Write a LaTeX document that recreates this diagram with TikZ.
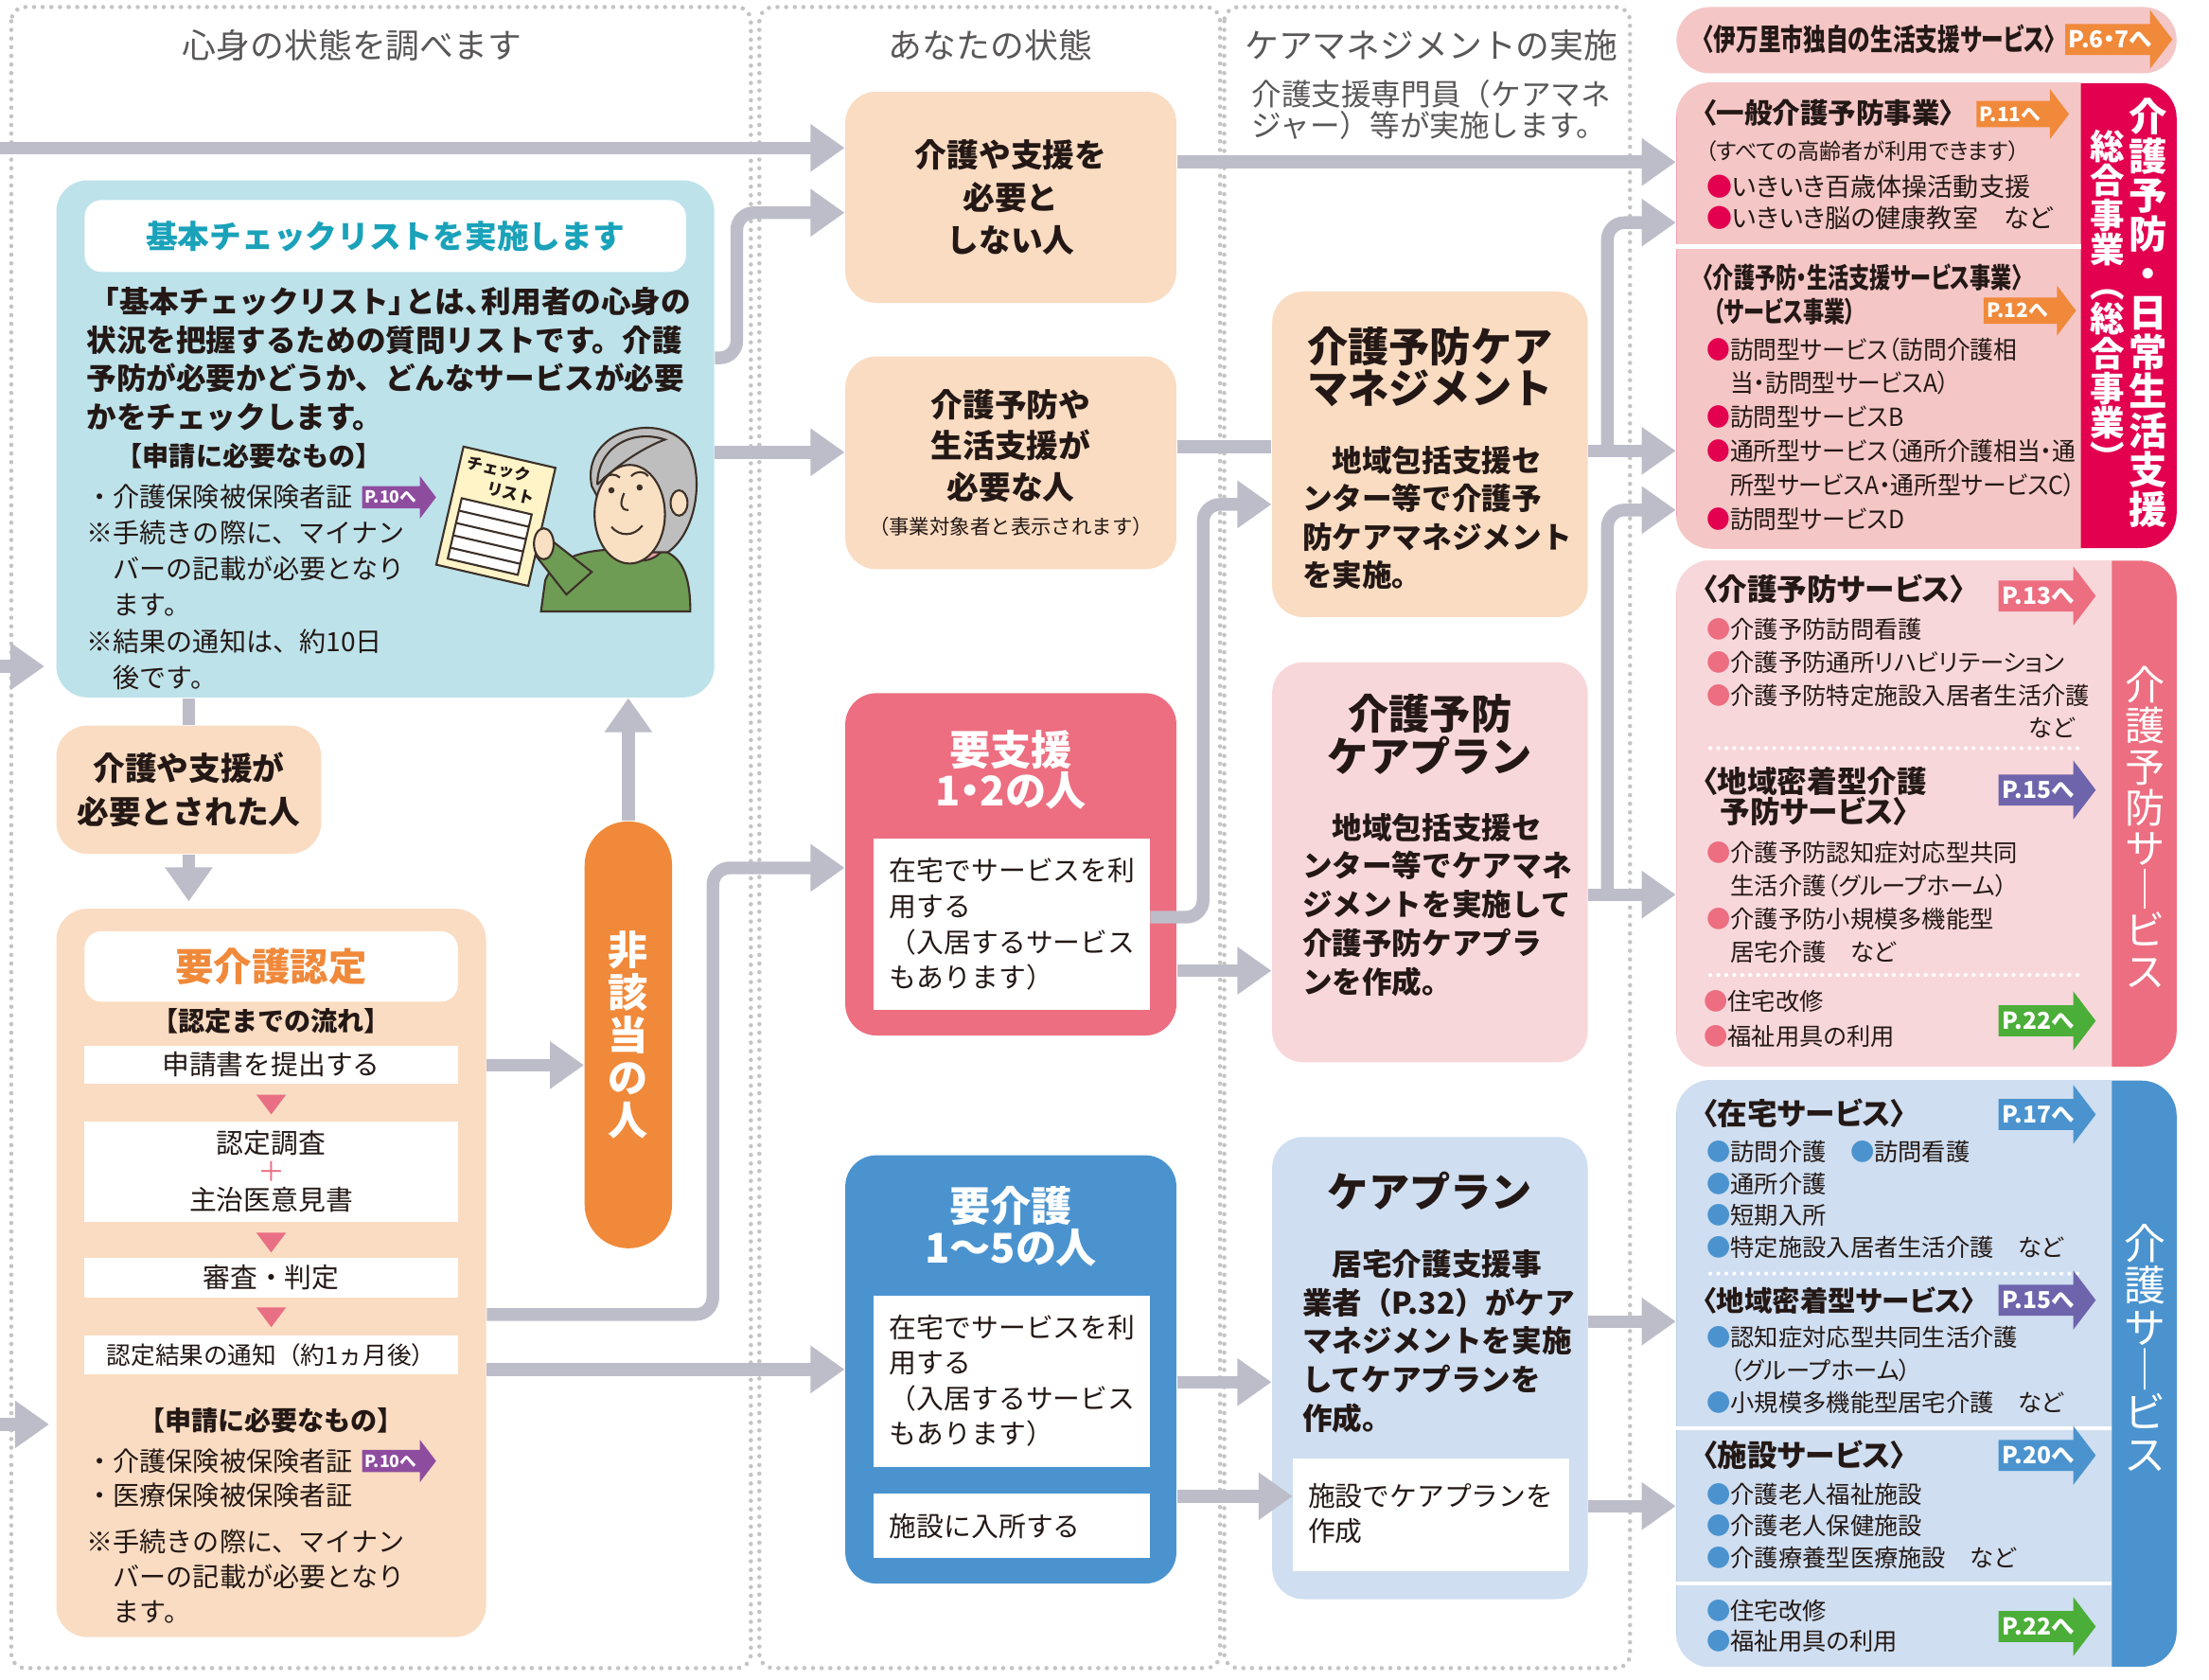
\documentclass[tikz,border=0pt]{standalone}
\usepackage{fontspec}
\setmainfont{Noto Sans CJK JP}
\newfontfamily\rcfont{Noto Sans CJK JP}[RawFeature=+palt]
\newfontfamily\rcnarrow{Noto Sans CJK JP}[RawFeature=+palt, FakeStretch=0.94]
\newfontfamily\hdnarrow{Noto Sans CJK JP}[RawFeature=+palt, FakeStretch=0.75]
\usetikzlibrary{arrows.meta,fit}

\definecolor{flowgray}{HTML}{BDBDCA}
\definecolor{framegray}{HTML}{C4C4C4}
\definecolor{headgray}{HTML}{595757}
\definecolor{ink}{HTML}{231815}
\definecolor{checkblue}{HTML}{BDE2EA}
\definecolor{checkteal}{HTML}{1AA2BA}
\definecolor{peach}{HTML}{FADCC2}
\definecolor{pillorange}{HTML}{F0893A}
\definecolor{shienred}{HTML}{EC6E80}
\definecolor{planpink}{HTML}{F8D7DB}
\definecolor{kaigoblue}{HTML}{4A93CF}
\definecolor{planblue}{HTML}{CFDEF0}
\definecolor{sougoupink}{HTML}{F5C6C6}
\definecolor{sougoumag}{HTML}{E2004F}
\definecolor{tagorange}{HTML}{F0893A}
\definecolor{tagpurple}{HTML}{6E64AC}
\definecolor{tagviolet}{HTML}{8E4C9F}
\definecolor{taggreen}{HTML}{4BAE38}
\definecolor{flowpink}{HTML}{E96F84}
\definecolor{shirt}{HTML}{6F9C55}
\definecolor{skin}{HTML}{FAE0C3}
\definecolor{hair}{HTML}{BEBEBE}
\definecolor{paper}{HTML}{FEF4C8}
\definecolor{collar}{HTML}{E8A7A6}
\definecolor{illline}{HTML}{3C3028}

\newcommand{\jfs}[2]{\fontsize{#1}{#2}\selectfont}
\newcommand{\bul}[1]{\textcolor{#1}{●}}
\newcommand{\bulind}{\phantom{●}}

% page reference tag: name, colour, x, y, body length, size, text
\newcommand{\pagetag}[7]{%
  \pgfmathsetmacro{\tagfs}{7*#6}%
  \fill[#2] (#3,#4) ++(0,-11*#6) -- ++(#5,0) -- ++(0,-10*#6) -- ++(16*#6,21*#6)
    -- ++(-16*#6,21*#6) -- ++(0,-10*#6) -- ++(-#5,0) -- cycle;
  \node[inner sep=0pt, anchor=west, text=white, font=\rcfont\bfseries\fontsize{\tagfs}{\tagfs}\selectfont] (#1) at (#3+2*#6,#4) {#7};}

\tikzset{
  flow/.style={draw=flowgray, line width=0.134cm, rounded corners=0.18cm},
  flowto/.style={flow, -{Triangle[width=0.48cm,length=0.36cm]}},
  colframe/.style={draw=framegray, line width=1.3pt, dash pattern=on 0pt off 2.6pt, line cap=round, rounded corners=0.15cm},
  sepdots/.style={draw=white, line width=1.2pt, dash pattern=on 0pt off 2.4pt, line cap=round},
  box/.style={inner sep=0pt, rounded corners=0.33cm},
  svbox/.style={inner sep=0pt, rounded corners=0.37cm},
  bar/.style={fill=white, inner sep=0pt},
  txt/.style={inner sep=0pt, anchor=west, align=left, text=ink},
  ctxt/.style={inner sep=0pt, align=center, text=ink},
  colhead/.style={inner sep=0pt, text=headgray, font=\jfs{10.2}{12}},
  svhead/.style={txt, font=\rcfont\bfseries\jfs{9}{10}},
}

\begin{document}
\begin{tikzpicture}[x=0.014885cm, y=-0.014885cm]
\useasboundingbox (0,0) rectangle (1568,1192);
\fill[white] (0,0) rectangle (1568,1192);

% column frames and headings
\draw[colframe] (8,5) rectangle (533,1184);
\draw[colframe] (539,5) rectangle (866,1184);
\draw[colframe] (869,5) rectangle (1157,1184);
\node[colhead] (head1) at (250,32) {心身の状態を調べます};
\node[colhead] (head2) at (703,32) {あなたの状態};
\node[colhead] (head3) at (1016,32) {ケアマネジメントの実施};
\node[txt, text=headgray, font=\jfs{9}{9.3}] (head3sub) at (888,78) {介護支援専門員（ケアマネ\\ジャー）等が実施します。};

% ---------- column 1 ----------
\node[box, fill=checkblue, fit={(40,128) (507,495)}] (kihon) {};
\node[box, fill=white, rounded corners=0.18cm, fit={(60,142) (487,193)}] (kihonbar) {};
\node[ctxt, text=checkteal, font=\bfseries\jfs{9.6}{11}] (kihontitle) at (kihonbar) {基本チェックリストを実施します};
\node[txt, font=\bfseries\jfs{9}{11.55}] (kihonbody) at (61,255) {\hspace*{0.1em}「基本チェックリスト」\hspace{-0.45em}とは、\hspace{-0.45em}利用者の心身の\\状況を把握するための質問リストです。介護\\予防が必要かどうか、どんなサービスが必要\\かをチェックします。};
\node[txt, font=\bfseries\jfs{8}{10}] (kihonneed) at (82,324) {【申請に必要なもの】};
\node[txt, font=\jfs{8}{10}] (kihonitem) at (61,352.6) {・介護保険被保険者証};
\pagetag{tagkihon}{tagviolet}{257}{353}{41}{0.72}{P.10へ}
\node[txt, font=\jfs{8}{10.9}] (kihonnote) at (61,429.5) {※手続きの際に、マイナン\\　バーの記載が必要となり\\　ます。\\※結果の通知は、約10日\\　後です。};

% man holding the check list
\begin{scope}[line width=0.6pt, draw=illline]
  \filldraw[fill=shirt] (384,434) -- (387,412) .. controls (392,398) and (412,390) .. (438,390) -- (468,390) .. controls (484,394) and (490,408) .. (490,434) -- cycle;
  \filldraw[fill=collar] (440,392) .. controls (450,400) and (462,400) .. (470,391) -- (466,386) -- (444,386) -- cycle;
  \filldraw[fill=shirt] (402,422) -- (380,394) -- (392,384) -- (420,406) -- cycle;
  \begin{scope}[shift={(329,317)}, rotate=-13]
    \filldraw[fill=paper] (0,0) rectangle (67,86);
    \node[inner sep=0pt, transform shape, text=ink, font=\bfseries\jfs{4.8}{4.8}] (sheettop) at (28,10) {チェック};
    \node[inner sep=0pt, transform shape, text=ink, font=\bfseries\jfs{4.8}{4.8}] (sheetbottom) at (40,25) {リスト};
    \filldraw[fill=white] (7,36) rectangle (58,80);
    \foreach \ly in {45,54,63,72} \draw (7,\ly) -- (58,\ly);
  \end{scope}
  \filldraw[fill=skin] (386,386) ellipse (7 and 11);
  \filldraw[fill=hair] (420,345) .. controls (412,305) and (470,290) .. (489,318) .. controls (500,340) and (494,378) .. (474,392) -- (445,392) -- cycle;
  \filldraw[fill=skin] (447,365) ellipse (25 and 35);
  \filldraw[fill=skin] (482,357) ellipse (6 and 9);
  \filldraw[fill=hair] (424,344) .. controls (424,318) and (448,304) .. (472,312) .. controls (456,318) and (438,330) .. (424,344);
  \fill[illline] (434,348) circle (2.2) (454,346) circle (2.2);
  \draw (428,340) .. controls (432,336) and (437,336) .. (440,339);
  \draw (448,338) .. controls (452,334) and (457,334) .. (460,338);
  \draw (443,350) .. controls (440,357) and (440,362) .. (446,362);
  \draw (434,374) .. controls (440,381) and (450,381) .. (456,373);
\end{scope}

\node[box, fill=peach, fit={(40,515) (228,606)}] (hitsuyou) {};
\node[ctxt, font=\bfseries\jfs{9.6}{13}] (hitsuyoutext) at (hitsuyou) {介護や支援が\\必要とされた人};

\node[box, fill=peach, fit={(40,645) (345,1162)}] (nintei) {};
\node[box, fill=white, rounded corners=0.18cm, fit={(60,661) (325,711)}] (nintbar) {};
\node[ctxt, text=pillorange, font=\bfseries\jfs{11.5}{13}] (ninttitle) at (nintbar) {要介護認定};
\node[ctxt, font=\bfseries\jfs{8}{10}] (nintflow) at (192.5,725) {【認定までの流れ】};
\node[bar, fit={(60,742) (325,769.5)}] (step1) {};
\node[ctxt, font=\jfs{8.2}{10}] (step1text) at (step1) {申請書を提出する};
\node[bar, fit={(60,796) (325,867)}] (step2) {};
\node[ctxt, font=\jfs{8.2}{8.5}] (step2text) at (step2) {認定調査\\\textcolor{flowpink}{＋}\\主治医意見書};
\node[bar, fit={(60,893) (325,921)}] (step3) {};
\node[ctxt, font=\jfs{8.2}{10}] (step3text) at (step3) {審査・判定};
\node[bar, fit={(60,948) (325,975.5)}] (step4) {};
\node[ctxt, font=\jfs{7.3}{10}] (step4text) at (step4) {認定結果の通知（約1ヵ月後）};
\foreach \ty in {777,875,928}
  \fill[flowpink] (182,\ty) -- (203,\ty) -- (192.5,\ty+14) -- cycle;
\node[ctxt, font=\bfseries\jfs{8}{10}] (nintneed) at (192.5,1008) {【申請に必要なもの】};
\node[txt, font=\jfs{8}{10.2}] (nintitems) at (61,1049) {・介護保険被保険者証\\・医療保険被保険者証};
\pagetag{tagnintei}{tagviolet}{257}{1037}{41}{0.72}{P.10へ}
\node[txt, font=\jfs{8}{10.6}] (nintnote) at (61,1119) {※手続きの際に、マイナン\\　バーの記載が必要となり\\　ます。};

\node[fill=pillorange, rounded corners=0.46cm, inner sep=0pt, fit={(415,583) (477,886)}] (higaitou) {};
\node[ctxt, text=white, font=\bfseries\jfs{12}{12.8}] (higaitoutext) at (higaitou) {非\\該\\当\\の\\人};

% ---------- column 2 ----------
\node[box, fill=peach, fit={(600,65) (835,215)}] (fuyou) {};
\node[ctxt, font=\bfseries\jfs{9.6}{12.9}] (fuyoutext) at (fuyou) {介護や支援を\\必要と\\しない人};
\node[box, fill=peach, fit={(600,253) (835,404)}] (jigyou) {};
\node[ctxt, font=\bfseries\jfs{9.6}{12.5}] (jigyoutitle) at (717.5,316.5) {介護予防や\\生活支援が\\必要な人};
\node[ctxt, font=\jfs{6.1}{7}] (jigyounote) at (717.5,374) {（事業対象者と表示されます）};

\node[box, fill=shienred, fit={(600,492) (835,735)}] (youshien) {};
\node[ctxt, text=white, font=\rcfont\bfseries\jfs{12.3}{12.3}] (shientitle) at (717.5,546.5) {要支援\\1・2の人};
\node[bar, fit={(620,595) (816,717)}] (shienin) {};
\node[txt, font=\jfs{8.2}{10.7}] (shientext) at (631,656) {在宅でサービスを利\\用する\\（入居するサービス\\もあります）};

\node[box, fill=kaigoblue, fit={(600,820) (835,1124)}] (youkaigo) {};
\node[ctxt, text=white, font=\rcfont\bfseries\jfs{12.3}{12.3}] (kaigotitle) at (717.5,870.5) {要介護\\1〜5の人};
\node[bar, fit={(620,920) (816,1041)}] (kaigoin) {};
\node[txt, font=\jfs{8.2}{10.7}] (kaigotext) at (631,980) {在宅でサービスを利\\用する\\（入居するサービス\\もあります）};
\node[bar, fit={(620,1060) (816,1106)}] (shisetsuin) {};
\node[txt, font=\jfs{8.2}{10}] (shisetsutext) at (631,1083) {施設に入所する};

% ---------- column 3 ----------
\node[box, fill=peach, fit={(903,207) (1127,438)}] (yobocm) {};
\node[ctxt, font=\bfseries\jfs{12.3}{12.5}] (yobocmtitle) at (1015,260.5) {介護予防ケア\\マネジメント};
\node[txt, font=\bfseries\jfs{9}{11.55}] (yobocmtext) at (924,367.5) {　地域包括支援セ\\ンター等で介護予\\防ケアマネジメント\\を実施。};

\node[box, fill=planpink, fit={(903,470) (1127,754)}] (yoboplan) {};
\node[ctxt, font=\bfseries\jfs{12.3}{12.8}] (yoboplantitle) at (1015,521.5) {介護予防\\ケアプラン};
\node[txt, font=\bfseries\jfs{9}{11.6}] (yoboplantext) at (924,642) {　地域包括支援セ\\ンター等でケアマネ\\ジメントを実施して\\介護予防ケアプラ\\ンを作成。};

\node[box, fill=planblue, fit={(903,807) (1127,1135)}] (careplan) {};
\node[ctxt, font=\bfseries\jfs{12.3}{12.8}] (careplantitle) at (1015,845) {ケアプラン};
\node[txt, font=\bfseries\jfs{9}{11.6}] (careplantext) at (924,952) {　居宅介護支援事\\業者（P.32）がケア\\マネジメントを実施\\してケアプランを\\作成。};
\node[bar, fit={(918,1035) (1114,1115)}] (planin) {};
\node[txt, font=\jfs{8.2}{10.6}] (planintext) at (928,1074.5) {施設でケアプランを\\作成};

% ---------- services ----------
\node[svbox, fill=sougoupink, rounded corners=0.35cm, fit={(1190,5) (1545,52)}] (imari) {};
\node[svhead, font=\hdnarrow\bfseries\jfs{9}{10}] (imaritext) at (1208,28) {〈伊万里市独自の生活支援サービス〉};
\pagetag{tagimari}{tagorange}{1466}{28}{60}{1}{P.6・7へ}

\node[svbox, fill=sougoumag, fit={(1190,59) (1545,389)}] (sougou) {};
\begin{scope}
  \clip (1190,59) rectangle (1477,389);
  \fill[sougoupink, rounded corners=0.37cm] (sougou.north west) rectangle (sougou.south east);
\end{scope}
\draw[white, line width=1.3pt] (1190,175) -- (1477,175);
\node[ctxt, text=white, font=\bfseries\jfs{11.5}{11.8}] (sougoulabel) at (1525,222) {介\\護\\予\\防\\・\\日\\常\\生\\活\\支\\援};
\node[ctxt, text=white, font=\bfseries\jfs{10.4}{10.4}] (sougousub) at (1496,213) {総\\合\\事\\業\\︵\\総\\合\\事\\業\\︶};
\node[svhead, font=\rcfont\bfseries\jfs{8.4}{10}] (ippan) at (1208,80) {〈一般介護予防事業〉};
\pagetag{tagippan}{tagorange}{1403}{81}{52}{0.85}{P.11へ}
\node[txt, font=\rcfont\jfs{6.6}{8}] (ippannote) at (1210,107) {（すべての高齢者が利用できます）};
\node[txt, font=\rcfont\jfs{7.7}{9.5}] (ippanitems) at (1211,143.75) {\bul{sougoumag}いきいき百歳体操活動支援\\\bul{sougoumag}いきいき脳の健康教室　など};
\node[svhead, font=\hdnarrow\bfseries\jfs{8.4}{10}] (sabisu) at (1208,209) {〈介護予防・生活支援サービス事業〉\\\hspace*{0.4em}（サービス事業）};
\pagetag{tagsabisu}{tagorange}{1408}{220.5}{52}{0.85}{P.12へ}
\node[txt, font=\rcnarrow\jfs{7.5}{10.2}] (sabisuitems) at (1211,308) {\bul{sougoumag}訪問型サービス（訪問介護相\\\bulind 当・訪問型サービスA）\\\bul{sougoumag}訪問型サービスB\\\bul{sougoumag}通所型サービス（通所介護相当・通\\\bulind 所型サービスA・通所型サービスC）\\\bul{sougoumag}訪問型サービスD};

\node[svbox, fill=shienred, fit={(1190,398) (1545,757)}] (yobosv) {};
\begin{scope}
  \clip (1190,398) rectangle (1499,757);
  \fill[planpink, rounded corners=0.37cm] (yobosv.north west) rectangle (yobosv.south east);
\end{scope}
\draw[sepdots] (1214,531) -- (1475,531);
\draw[sepdots] (1214,692) -- (1475,692);
\node[ctxt, text=white, font=\jfs{12}{12.3}] (yobosvlabel) at (1522.5,587) {介\\護\\予\\防\\サ\\｜\\ビ\\ス};
\node[svhead] (yobosvhead) at (1208,418.3) {〈介護予防サービス〉};
\pagetag{tagyobo}{shienred}{1418.6}{423}{53}{1}{P.13へ}
\node[txt, font=\rcfont\jfs{7.2}{9.9}] (yobosvitems) at (1211,470.3) {\bul{shienred}介護予防訪問看護\\\bul{shienred}介護予防通所リハビリテーション\\\bul{shienred}介護予防特定施設入居者生活介護};
\node[inner sep=0pt, anchor=east, text=ink, font=\rcfont\jfs{7.2}{9}] (yobosvetc) at (1473,516.4) {など};
\node[svhead, font=\rcfont\bfseries\jfs{9}{9.15}] (mitchakuhead) at (1208,565.5) {〈地域密着型介護\\\hspace*{0.6em}予防サービス〉};
\pagetag{tagmitchaku}{tagpurple}{1418.6}{560.7}{53}{1}{P.15へ}
\node[txt, font=\rcfont\jfs{7.2}{9.95}] (mitchakuitems) at (1211,640.3) {\bul{shienred}介護予防認知症対応型共同\\\bulind 生活介護（グループホーム）\\\bul{shienred}介護予防小規模多機能型\\\bulind 居宅介護　など};
\node[txt, font=\rcfont\jfs{7.2}{10.6}] (yobotools) at (1209,722.9) {\bul{shienred}住宅改修\\\bul{shienred}福祉用具の利用};
\pagetag{tagyobotools}{taggreen}{1418.6}{724.6}{53}{1}{P.22へ}

\node[svbox, fill=kaigoblue, fit={(1190,767) (1545,1183)}] (kaigosv) {};
\begin{scope}
  \clip (1190,767) rectangle (1499,1183);
  \fill[planblue, rounded corners=0.37cm] (kaigosv.north west) rectangle (kaigosv.south east);
\end{scope}
\draw[sepdots] (1214,904) -- (1475,904);
\draw[white, line width=1.3pt] (1190,1013.7) -- (1499,1013.7);
\draw[white, line width=1.3pt] (1190,1124) -- (1499,1124);
\node[ctxt, text=white, font=\jfs{12.5}{12.7}] (kaigosvlabel) at (1522.5,956.5) {介\\護\\サ\\｜\\ビ\\ス};
\node[svhead] (zaitakuhead) at (1208,790) {〈在宅サービス〉};
\pagetag{tagzaitaku}{kaigoblue}{1418.6}{791}{53}{1}{P.17へ}
\node[txt, font=\rcfont\jfs{7.2}{9.6}] (zaitakuitems) at (1211,851.5) {\bul{kaigoblue}訪問介護　\bul{kaigoblue}訪問看護\\\bul{kaigoblue}通所介護\\\bul{kaigoblue}短期入所\\\bul{kaigoblue}特定施設入居者生活介護　など};
\node[svhead, font=\rcfont\bfseries\jfs{8.4}{10}] (chiikihead) at (1208,922.8) {〈地域密着型サービス〉};
\pagetag{tagchiiki}{tagpurple}{1418.6}{922.8}{53}{1}{P.15へ}
\node[txt, font=\rcfont\jfs{7.2}{9.75}] (chiikiitems) at (1211,972.5) {\bul{kaigoblue}認知症対応型共同生活介護\\\bulind（グループホーム）\\\bul{kaigoblue}小規模多機能型居宅介護　など};
\node[svhead] (shisetsuhead) at (1208,1032.8) {〈施設サービス〉};
\pagetag{tagshisetsu}{kaigoblue}{1418.6}{1033}{53}{1}{P.20へ}
\node[txt, font=\rcfont\jfs{7.2}{9.5}] (shisetsuitems) at (1211,1083) {\bul{kaigoblue}介護老人福祉施設\\\bul{kaigoblue}介護老人保健施設\\\bul{kaigoblue}介護療養型医療施設　など};
\node[txt, font=\rcfont\jfs{7.2}{9.15}] (kaigotools) at (1211,1154) {\bul{kaigoblue}住宅改修\\\bul{kaigoblue}福祉用具の利用};
\pagetag{tagkaigotools}{taggreen}{1418.6}{1154.5}{53}{1}{P.22へ}

% ---------- flow lines ----------
\coordinate (intop) at (0,105);
\coordinate (inkihon) at (0,473);
\coordinate (innintei) at (0,1011);
\coordinate (cmjoin) at (1141,320);
\coordinate (planjoin) at (1141,635);

\draw[flowto] (intop) -- (intop -| fuyou.west);
\draw[flowto] (kihon.east |- 0,254) -| (523,151) -- (fuyou.west |- 0,151);
\draw[flowto] (kihon.east |- 0,321) -- (jigyou.west |- 0,321);
\draw[flowto, shorten >=0.12cm] (inkihon) -- (inkihon -| kihon.west);
\draw[flow] (hitsuyou.north |- kihon.south) -- (hitsuyou.north);
\draw[flowto, shorten >=0.07cm] (hitsuyou.south) -- (hitsuyou.south |- nintei.north);
\draw[flowto] (higaitou.north) -- (higaitou.north |- kihon.south);
\draw[flowto] (nintei.east |- 0,756) -- (higaitou.west |- 0,756);
\draw[flowto] (nintei.east |- 0,933) -| (506,616) -- (youshien.west |- 0,616);
\draw[flowto] (nintei.east |- 0,972) -- (youkaigo.west |- 0,972);
\draw[flowto, shorten >=0.07cm] (innintei) -- (innintei -| nintei.west);

\draw[flowto] (fuyou.east |- 0,115) -- (sougou.west |- 0,115);
\draw[flow] (jigyou.east |- 0,317) -- (yobocm.west |- 0,317);
\draw[flowto] (shienin.east |- 0,651) -| (854,358) -- (yobocm.west |- 0,358);
\draw[flowto] (youshien.east |- 0,689) -- (yoboplan.west |- 0,689);
\draw[flowto] (youkaigo.east |- 0,981) -- (careplan.west |- 0,981);
\draw[flowto] (youkaigo.east |- 0,1062) -- (planin.west |- 0,1062);

\draw[flowto] (yobocm.east |- cmjoin) -- (sougou.west |- cmjoin);
\draw[flowto] (cmjoin) |- (sougou.west |- 0,158);
\draw[flowto] (yoboplan.east |- planjoin) -- (yobosv.west |- planjoin);
\draw[flowto] (planjoin) |- (sougou.west |- 0,362);
\draw[flowto] (careplan.east |- 0,938) -- (kaigosv.west |- 0,938);
\draw[flowto] (careplan.east |- 0,1069) -- (kaigosv.west |- 0,1069);
\end{tikzpicture}
\end{document}
